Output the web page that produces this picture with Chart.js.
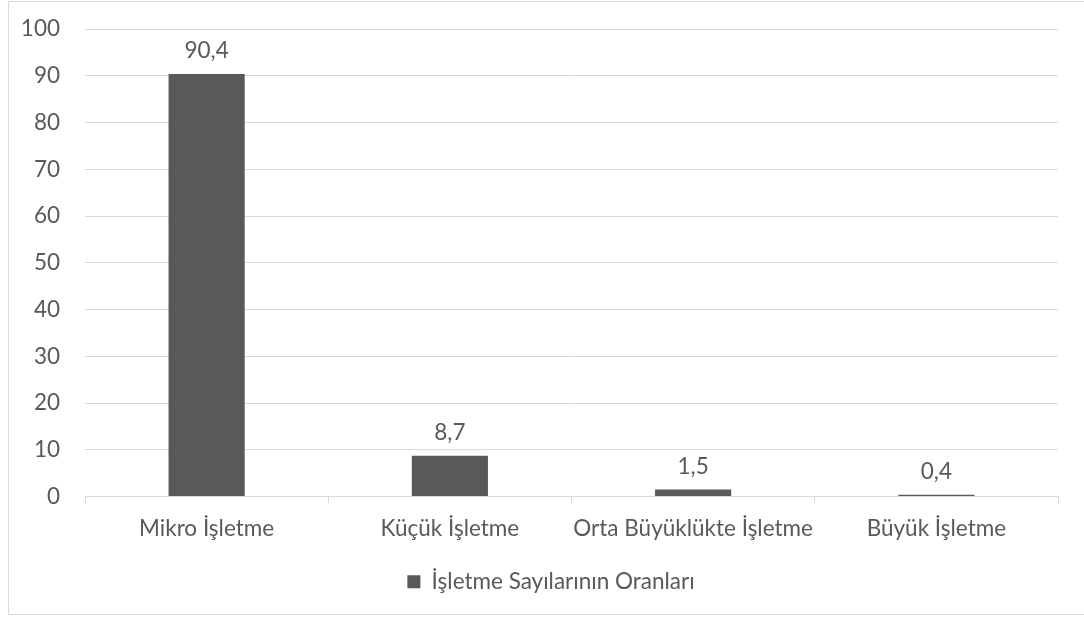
<!DOCTYPE html>
<html lang="tr">
<head>
<meta charset="utf-8">
<title>İşletme Sayılarının Oranları</title>
<script src="https://cdn.jsdelivr.net/npm/chart.js@4/dist/chart.umd.min.js"></script>
<style>
  html, body { margin: 0; padding: 0; background: #ffffff; }
  #wrap { position: relative; width: 1084px; height: 617px; overflow: hidden; }
  #frame { position: absolute; left: 8px; top: 1px; width: 1100px; height: 614px;
           border: 1px solid #d9d9d9; box-sizing: border-box; pointer-events: none; }
  canvas { position: absolute; left: 0; top: 0; }
</style>
</head>
<body>
<div id="wrap">
  <canvas id="chart" width="1084" height="617"></canvas>
  <div id="frame"></div>
</div>
<script>
// Business size categories and their share of all businesses (%)
const categories = ['Mikro İşletme', 'Küçük İşletme', 'Orta Büyüklükte İşletme', 'Büyük İşletme'];
const shares = [90.4, 8.7, 1.5, 0.4];
const seriesName = 'İşletme Sayılarının Oranları';
const yTicks = [0, 10, 20, 30, 40, 50, 60, 70, 80, 90, 100];

const FONT = 'Lato, "Open Sans", "DejaVu Sans", sans-serif';
const FONT_SIZE = 22.5;
const TEXT = '#595959';
const GRID = '#d9d9d9';

// Writes each bar's value above it, with a decimal comma
const valueLabels = {
  id: 'valueLabels',
  afterDatasetsDraw(chart) {
    const ctx = chart.ctx;
    ctx.save();
    ctx.font = FONT_SIZE + 'px ' + FONT;
    ctx.fillStyle = TEXT;
    ctx.textAlign = 'center';
    ctx.textBaseline = 'middle';
    chart.data.datasets.forEach((ds, i) => {
      chart.getDatasetMeta(i).data.forEach((bar, j) => {
        const txt = ds.data[j].toFixed(1).replace('.', ',');
        ctx.fillText(txt, bar.x, bar.y - 23);
      });
    });
    ctx.restore();
  }
};

// Centres the legend a little to the right, under the middle of the frame
const legendShift = {
  id: 'legendShift',
  afterLayout(chart) {
    if (chart.legend) chart.legend.left += 44;
  }
};

new Chart(document.getElementById('chart'), {
  type: 'bar',
  data: {
    labels: categories,
    datasets: [{
      label: seriesName,
      data: shares,
      backgroundColor: '#595959',
      borderWidth: 0,
      categoryPercentage: 1,
      barPercentage: 0.313
    }]
  },
  options: {
    responsive: false,
    animation: false,
    layout: { padding: { left: 0, right: 26, top: 29, bottom: 14 } },
    plugins: {
      legend: {
        position: 'bottom',
        labels: {
          font: { family: FONT, size: FONT_SIZE },
          color: TEXT,
          boxWidth: 13,
          boxHeight: 13,
          padding: 13
        }
      },
      tooltip: { enabled: false }
    },
    scales: {
      x: {
        afterFit(scale) { scale.height += 3; },
        grid: { display: true, drawOnChartArea: false, drawTicks: true, tickLength: 7, color: GRID, offset: true },
        border: { display: true, color: GRID, width: 1 },
        ticks: { font: { family: FONT, size: FONT_SIZE }, color: TEXT, padding: 12, maxRotation: 0, autoSkip: false }
      },
      y: {
        min: 0,
        max: 100,
        afterBuildTicks(scale) { scale.ticks = yTicks.map(v => ({ value: v })); },
        afterFit(scale) {
          scale.width = 85;
          scale.paddingTop = 0;
          scale.paddingBottom = 0;
        },
        grid: { color: GRID, drawTicks: false, lineWidth: 1 },
        border: { display: false },
        ticks: { font: { family: FONT, size: FONT_SIZE }, color: TEXT, padding: 25 }
      }
    }
  },
  plugins: [valueLabels, legendShift]
});
</script>
</body>
</html>
